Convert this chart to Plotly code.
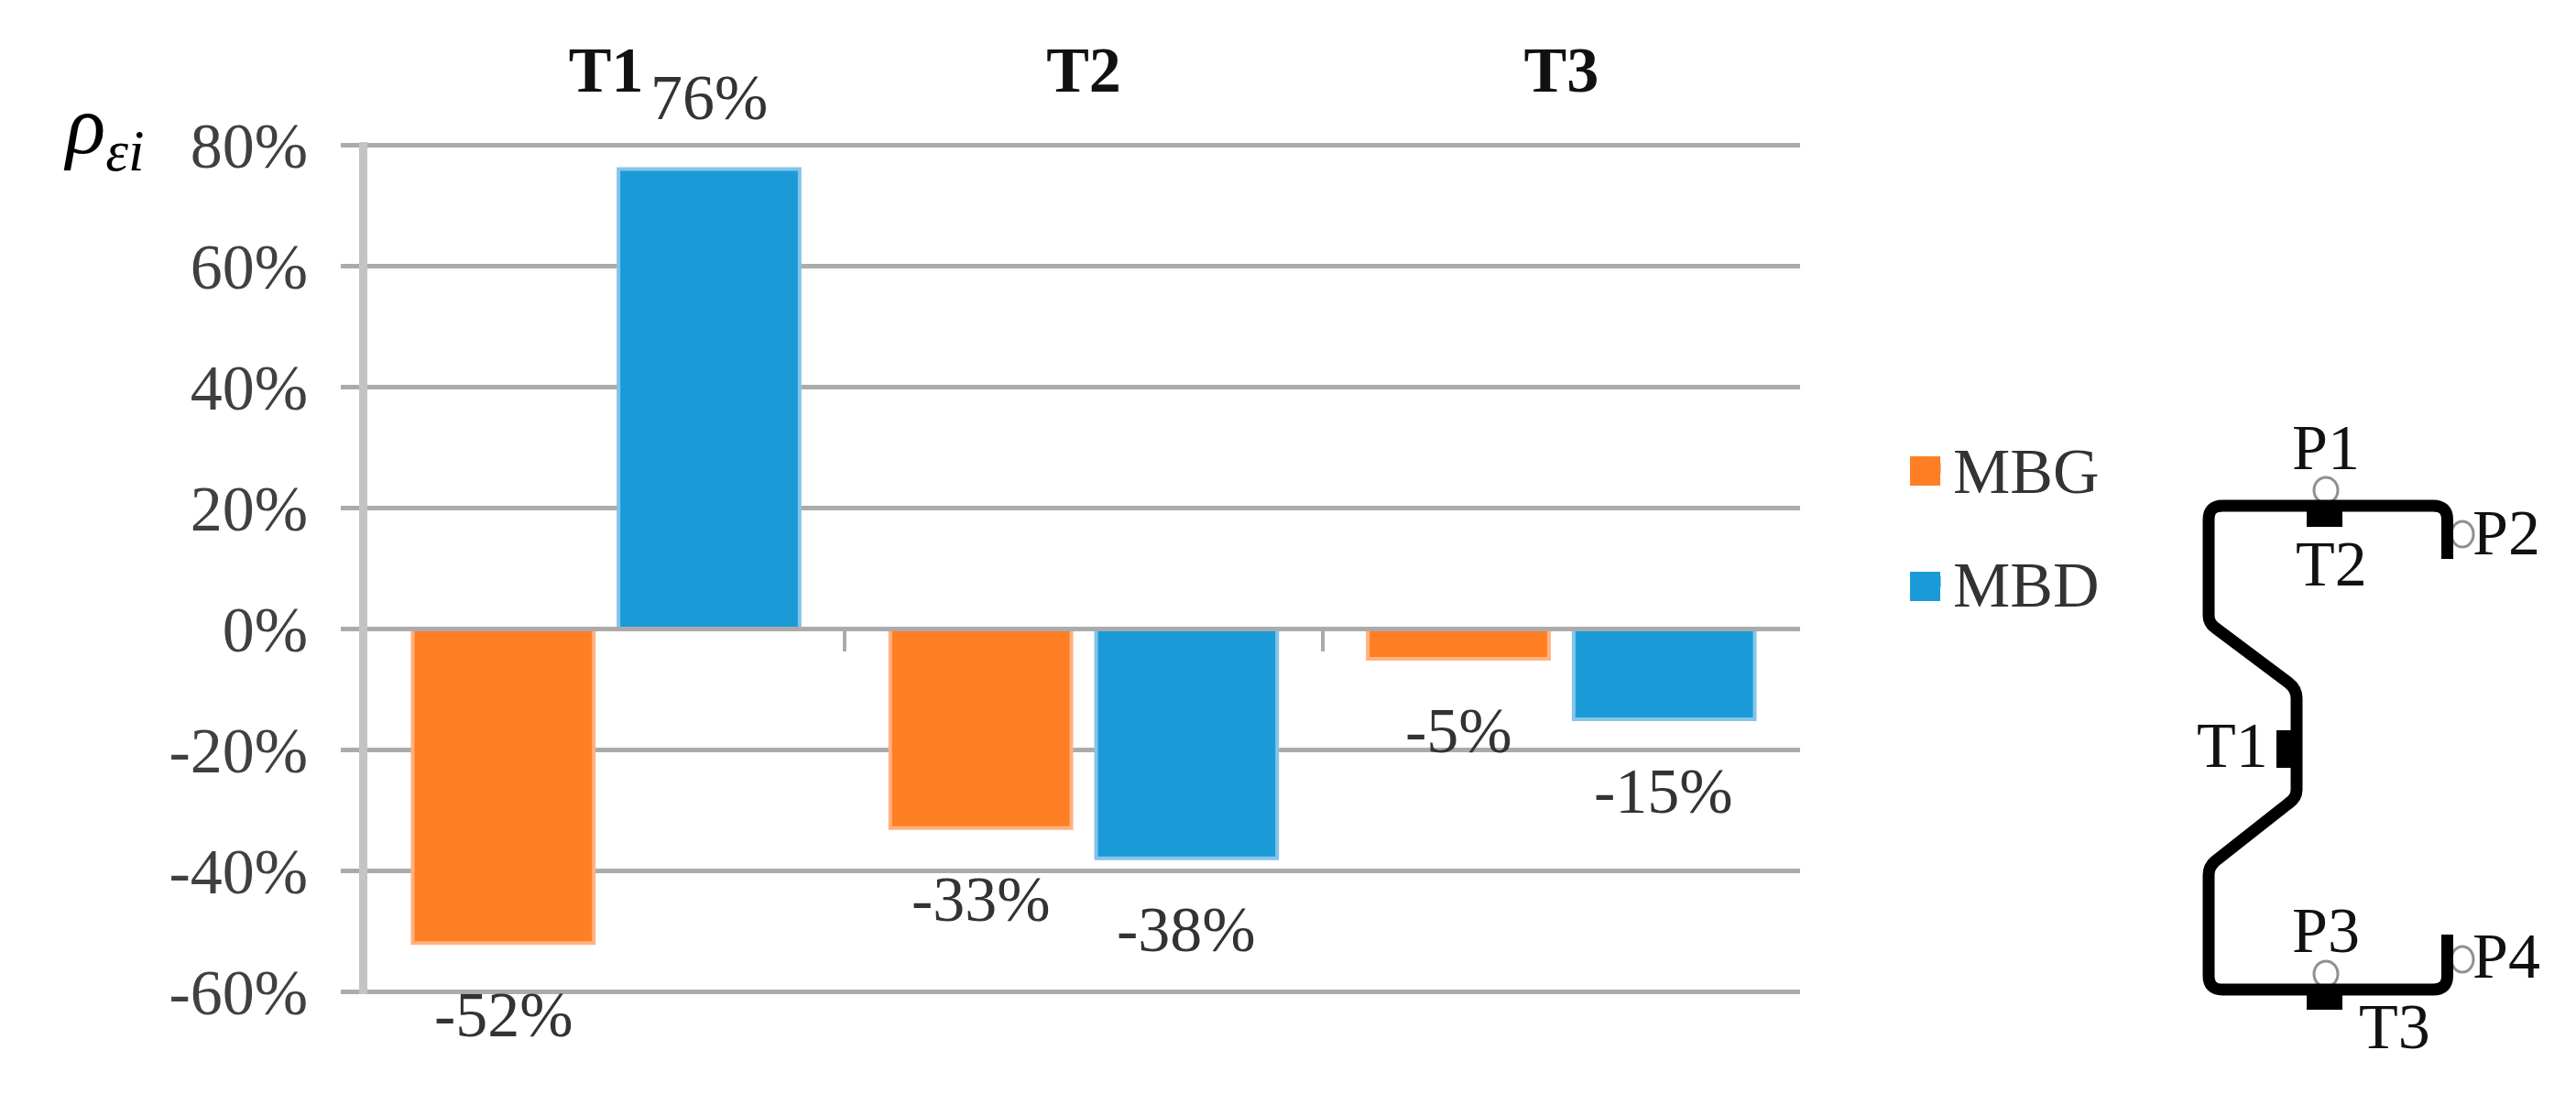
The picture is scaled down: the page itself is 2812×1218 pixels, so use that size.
import plotly.graph_objects as go

W, H = 2812, 1218
PAD = 8                      # page margin round the figure
FW, FH = W - 2 * PAD, H - 2 * PAD
FONT = "Liberation Serif"

categories = ["T1", "T2", "T3"]
mbg_values = [-52, -33, -5]
mbd_values = [76, -38, -15]
y_ticks = [-60, -40, -20, 0, 20, 40, 60, 80]
y_tick_labels = ["-60%", "-40%", "-20%", "0%", "20%", "40%", "60%", "80%"]

ORANGE, BLUE = "#FF7F24", "#1A9BD7"
EXT = 0.5                    # small range pad so the end gridlines are kept
zero_px, per_unit = 686, 6.6
top_px = zero_px - (80 + EXT) * per_unit
bottom_px = zero_px + (60 + EXT) * per_unit
left_px, right_px = 401, 1965

def fx(px):
    return (px - PAD) / FW

def fy(py):
    return 1 - (py - PAD) / FH

fig = go.Figure()
fig.add_bar(name="MBG", x=categories, y=mbg_values, showlegend=False, marker=dict(color=ORANGE, line=dict(color="#FFB27F", width=4)))
fig.add_bar(name="MBD", x=categories, y=mbd_values, showlegend=False, marker=dict(color=BLUE, line=dict(color="#86C4EA", width=4)))
fig.add_bar(name="MBG", x=[None], y=[None], xaxis="x3", yaxis="y3", marker=dict(color=ORANGE, line=dict(color=ORANGE, width=1)), legendgroup="a")
fig.add_bar(name="MBD", x=[None], y=[None], xaxis="x3", yaxis="y3", marker=dict(color=BLUE, line=dict(color=BLUE, width=1)), legendgroup="b")

annotations = []
for vals, dx in ((mbg_values, -112), (mbd_values, 112)):
    for i, v in enumerate(vals):
        annotations.append(dict(x=i, y=v, xref="x", yref="y", text=f"{v}%", showarrow=False,
                                xshift=dx, yshift=78 if v > 0 else -78,
                                font=dict(family=FONT, size=70, color="#333333")))
annotations.append(dict(x=113, y=143, xref="x3", yref="y3", text="<i>ρ<sub>εi</sub></i>", showarrow=False,
                        font=dict(family=FONT, size=90, color="#000000")))
sketch_labels = {"P1": (2539, 488), "P2": (2736, 581), "T2": (2545, 615), "T1": (2437, 813),
                 "P3": (2539, 1015), "P4": (2736, 1043), "T3": (2614, 1120)}
for t, (px, py) in sketch_labels.items():
    annotations.append(dict(x=px, y=py, xref="x3", yref="y3", text=t, showarrow=False,
                            font=dict(family=FONT, size=70, color="#111111")))

def rect(x0, y0, x1, y1, color):
    return dict(type="rect", xref="x3", yref="y3", x0=x0, y0=y0, x1=x1, y1=y1,
                fillcolor=color, line=dict(width=0))

def circ(cx, cy, rx, ry):
    return dict(type="circle", xref="x3", yref="y3", x0=cx - rx, x1=cx + rx, y0=cy - ry, y1=cy + ry,
                fillcolor="white", line=dict(color="#909090", width=3))

profile = ("M2671.5,610 L2671.5,567 Q2671.5,552 2656,552 L2426,552 Q2411,552 2411,567 L2411,672 Q2411,680 2418,685 "
           "L2498,745 Q2507,752 2507,762 L2507,862 Q2507,871 2498,877 L2418,940 Q2411,946 2411,955 L2411,1065 "
           "Q2411,1080 2426,1080 L2656,1080 Q2671.5,1080 2671.5,1065 L2671.5,1020")
shapes = [
    circ(2539, 535, 13, 14), circ(2688, 583, 12, 14), circ(2539, 1063, 13, 14), circ(2688, 1047, 12, 14),
    dict(type="path", xref="x3", yref="y3", path=profile, line=dict(color="black", width=13)),
    rect(2518, 557, 2557, 575, "black"), rect(2518, 1083, 2557, 1102, "black"), rect(2485, 797, 2503, 838, "black"),
    rect(2085, 498, 2118, 530, ORANGE), rect(2085, 624, 2118, 656, BLUE),
]

fig.update_layout(
    width=FW, height=FH, margin=dict(l=0, r=0, t=0, b=0, autoexpand=False), autosize=False,
    paper_bgcolor="white", plot_bgcolor="rgba(0,0,0,0)",
    barmode="group", bargap=0.138, bargroupgap=0.12,
    font=dict(family=FONT, size=70, color="#333333"),
    xaxis=dict(domain=[fx(left_px), fx(right_px)], anchor="free", position=fy(zero_px), side="top",
               type="category", categoryorder="array", categoryarray=categories,
               showline=True, linecolor="#ABABAB", linewidth=5,
               ticks="inside", ticklen=22, tickwidth=4, tickcolor="#ABABAB", tickson="boundaries",
               ticklabelstandoff=556, showgrid=False, zeroline=False,
               tickfont=dict(family=FONT, size=70, color="#111111", weight="bold")),
    yaxis=dict(domain=[fy(bottom_px), fy(top_px)], range=[-60 - EXT, 80 + EXT], tickvals=y_ticks, ticktext=y_tick_labels,
               showgrid=True, gridcolor="#ABABAB", gridwidth=5, zeroline=False,
               showline=True, linecolor="#C4C4C4", linewidth=9,
               ticks="outside", ticklen=20, tickwidth=5, tickcolor="#ABABAB", ticklabelstandoff=22,
               tickfont=dict(family=FONT, size=70, color="#404040")),
    xaxis3=dict(domain=[0, 1], range=[PAD, W - PAD], visible=False, fixedrange=True, anchor="y3"),
    yaxis3=dict(domain=[0, 1], range=[H - PAD, PAD], visible=False, fixedrange=True, anchor="x3"),
    legend=dict(x=fx(2092), y=fy(459), xanchor="left", yanchor="top", bgcolor="rgba(0,0,0,0)",
                font=dict(family=FONT, size=70, color="#333333"), tracegroupgap=30, itemclick=False),
    annotations=annotations, shapes=shapes,
)
fig.write_html("out.html")
